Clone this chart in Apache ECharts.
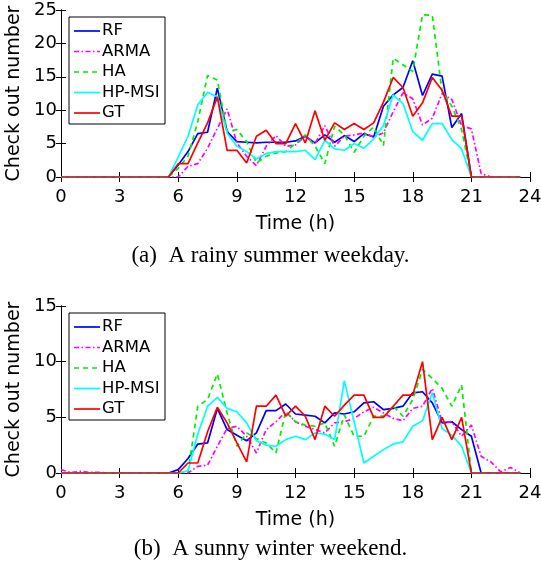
<!DOCTYPE html>
<html><head><meta charset="utf-8">
<script src="https://cdn.jsdelivr.net/npm/echarts@6/dist/echarts.min.js"></script>
<style>html,body{margin:0;padding:0;background:#fff}#c{width:541px;height:567px}</style>
</head><body><div id="c"></div>
<script>
var hours = [0,0.5,1,1.5,2,2.5,3,3.5,4,4.5,5,5.5,6,6.5,7,7.5,8,8.5,9,9.5,10,10.5,11,11.5,12,12.5,13,13.5,14,14.5,15,15.5,16,16.5,17,17.5,18,18.5,19,19.5,20,20.5,21,21.5,22,22.5,23,23.5];
var seriesNames = ['RF','ARMA','HA','HP-MSI','GT'];
var xTicks = [0,3,6,9,12,15,18,21,24];
// (a) rainy summer weekday
var rfA   = [0,0,0,0,0,0,0,0,0,0,0,0, 1.8,3.8,6.5,6.7,13.3,6.8,5.3,5.2,5.1,5.2,5.2,5.2,5.4,6.1,5.1,6.3,5.2,6.2,5.3,6.5,6.0,10.6,12.3,13.4,17.4,12.2,15.4,15.1,7.4,9.5,0,0,0,0,0,0];
var armaA = [0,0,0,0,0,0,0,0,0,0,0,0, 0,1.6,2.0,4.3,7.3,10.2,5.1,3.1,1.7,4.6,6.2,4.6,4.8,6.1,5.0,7.7,4.6,6.1,6.3,6.6,6.0,6.6,9.8,12.6,11.7,7.8,8.8,12.5,11.6,7.7,7.2,0.5,0,0,0,0];
var haA   = [0,0,0,0,0,0,0,0,0,0,0,0, 1.3,3.1,8.3,15.2,14.5,6.8,7.1,5.3,2.1,3.1,3.6,3.8,5.0,6.3,4.6,2.0,7.6,6.3,3.7,6.1,7.5,4.7,17.8,16.8,15.8,24.3,24.2,12.8,10.6,7.1,0,0,0,0,0,0];
var hpA   = [0,0,0,0,0,0,0,0,0,0,0,0, 3.0,6.1,10.8,12.7,12.0,6.6,4.6,3.8,2.7,3.5,3.8,3.8,3.8,4.0,2.6,5.5,4.2,4.0,5.0,4.3,5.7,7.7,12.3,11.0,6.8,5.5,8.0,8.0,5.6,4.2,0,0,0,0,0,0];
var gtA   = [0,0,0,0,0,0,0,0,0,0,0,0, 2.0,2.0,5.1,8.1,12.0,4.0,4.0,2.1,6.1,7.0,5.0,5.0,8.0,5.1,9.9,5.5,8.1,7.1,8.0,7.1,8.1,11.2,14.9,13.4,9.1,11.1,14.9,13.0,9.1,9.1,0,0,0,0,0,0];
// (b) sunny winter weekend
var rfB   = [0,0,0,0,0,0,0,0,0,0,0,0, 0.3,1.3,2.6,2.7,5.8,3.9,3.4,2.9,3.6,5.6,5.6,6.2,5.3,5.2,5.1,4.5,5.4,5.3,5.5,6.3,6.4,5.7,5.8,6.0,7.2,7.3,6.3,4.5,4.6,3.9,3.3,0,0,0,0,0];
var armaB = [0.3,0.05,0.15,0.05,0.05,0,0,0,0,0,0,0, 0,0,0.6,0.7,2.4,4.0,4.2,3.3,1.8,3.9,4.6,5.5,4.6,4.2,3.9,3.6,4.5,4.6,4.9,5.5,5.9,5.4,4.9,4.7,5.8,6.0,7.6,4.6,4.6,3.3,4.3,1.5,1.0,0.1,0.5,0];
var haB   = [0,0,0,0,0,0,0,0,0,0,0,0, 0,0.1,6.0,6.6,8.9,5.4,2.4,3.6,3.1,2.7,1.8,5.5,4.6,4.3,4.2,4.5,2.4,5.2,3.3,3.3,5.1,5.1,6.0,5.1,6.6,9.3,8.5,7.6,6.0,7.9,0,0,0,0,0,0];
var hpB   = [0,0,0,0,0,0,0,0,0,0,0,0, 0,0.2,3.5,6.0,6.8,5.8,5.5,4.5,2.9,2.5,2.4,3.0,3.3,3.0,3.6,3.5,3.0,8.3,4.6,0.9,1.5,2.1,2.6,2.8,4.2,4.7,7.2,4.0,3.4,2.4,0,0,0,0,0,0];
var gtB   = [0,0,0,0,0,0,0,0,0,0,0,0, 0,0.9,0.9,3.7,5.9,4.5,2.7,1.0,6.0,6.0,7.0,5.1,6.0,5.1,3.0,6.0,5.1,6.1,7.0,7.0,5.0,5.0,6.0,7.0,7.0,10.0,3.0,5.0,3.0,5.0,0,0,0,0,0,0];

var colors = ['#0000ff','#ff00ff','#00ee00','#00ffff','#ff0000'];
var dashes = ['solid',[5,2.5,1.5,2.5],[5,4],'solid','solid'];
var FONT = '"DejaVu Sans", sans-serif';

function pairs(v){ return hours.map(function(h,i){return [h,v[i]];}); }

var gridsDef = [{left:61, top:10, width:469, height:167, ymax:25, data:[rfA,armaA,haA,hpA,gtA]},
                {left:61, top:306, width:469, height:167, ymax:15, data:[rfB,armaB,haB,hpB,gtB]}];
var option = {animation:false, backgroundColor:'#fff', grid:[], xAxis:[], yAxis:[], series:[], graphic:[]};
gridsDef.forEach(function(g,gi){
  option.grid.push({left:g.left, top:g.top, width:g.width, height:g.height, containLabel:false, outerBoundsMode:'none'});
  var axLine = {show:true, lineStyle:{color:'#000', width:1}};
  var tick = {show:true, inside:true, length:5, lineStyle:{color:'#000'}};
  option.xAxis.push({type:'value', gridIndex:gi, min:0, max:24, interval:3, position:'bottom',
    axisLine:axLine, axisTick:tick, splitLine:{show:false},
    axisLabel:{color:'#000', fontSize:18, fontFamily:FONT, margin:11},
    name:'Time (h)', nameLocation:'middle', nameGap:38, nameTextStyle:{color:'#000', fontSize:19, fontFamily:FONT}});
  option.xAxis.push({type:'value', gridIndex:gi, min:0, max:24, interval:3, position:'top',
    axisLine:axLine, axisTick:tick, splitLine:{show:false}, axisLabel:{show:false}});
  option.yAxis.push({type:'value', gridIndex:gi, min:0, max:g.ymax, interval:5, position:'left',
    axisLine:axLine, axisTick:tick, splitLine:{show:false},
    axisLabel:{color:'#000', fontSize:18, fontFamily:FONT, margin:4},
    name:'Check out number', nameLocation:'middle', nameGap:33, nameRotate:90, nameTextStyle:{color:'#000', fontSize:19, fontFamily:FONT}});
  option.yAxis.push({type:'value', gridIndex:gi, min:0, max:g.ymax, interval:5, position:'right',
    axisLine:axLine, axisTick:tick, splitLine:{show:false}, axisLabel:{show:false}});
  seriesNames.forEach(function(n,si){
    option.series.push({name:n, type:'line', xAxisIndex:gi*2, yAxisIndex:gi*2, data:pairs(g.data[si]),
      showSymbol:false, symbol:'none', color:colors[si], z:2+si,
      lineStyle:{color:colors[si], width:1.7, type:dashes[si]}});
  });
  // legend box (drawn as graphics)
  var bx = 69, by = g.top + 7, bw = 96, bh = 107;
  option.graphic.push({type:'rect', z:50, shape:{x:bx, y:by, width:bw, height:bh},
    style:{fill:'#fff', stroke:'#000', lineWidth:1}});
  seriesNames.forEach(function(n,si){
    var cy = by + 14 + si*20.5;
    option.graphic.push({type:'line', z:51, shape:{x1:74, y1:cy, x2:100, y2:cy},
      style:{stroke:colors[si], lineWidth:1.7, lineDash: Array.isArray(dashes[si]) ? dashes[si] : null}});
    option.graphic.push({type:'text', z:51, x:102, y:cy,
      style:{text:n, fill:'#000', font:'16.5px ' + FONT, verticalAlign:'middle', align:'left'}});
  });
});
option.graphic.push({type:'text', left:'center', top:244, style:{text:'(a)  A rainy summer weekday.', fill:'#000', font:'23px "Liberation Serif", "Times New Roman", serif'}});
option.graphic.push({type:'text', left:'center', top:537, style:{text:'(b)  A sunny winter weekend.', fill:'#000', font:'23px "Liberation Serif", "Times New Roman", serif'}});
var chart = echarts.init(document.getElementById('c'), null, {renderer:'canvas'});
chart.setOption(option);
</script></body></html>
